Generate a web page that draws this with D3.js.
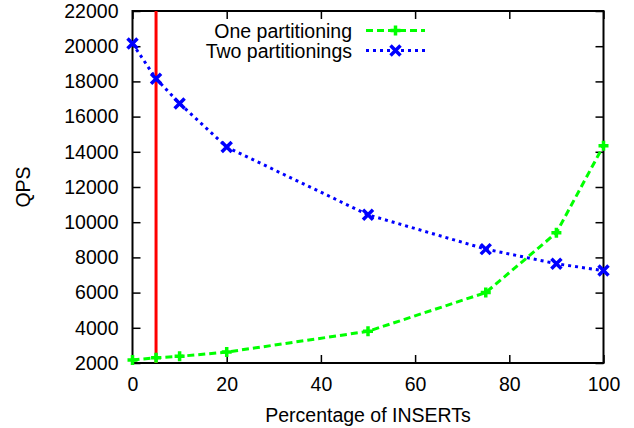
<!DOCTYPE html>
<html>
<head>
<meta charset="utf-8">
<script src="https://cdn.jsdelivr.net/npm/d3@7"></script>
<style>
  body { margin: 0; background: #fff; }
  svg text { font-family: "Liberation Sans", Arial, Helvetica, sans-serif; fill: #000; }
</style>
</head>
<body>
<div id="chart"></div>
<script>
const xValues = [0, 5, 10, 20, 50, 75, 90, 100];
const onePartitioning = [2170, 2300, 2380, 2620, 3800, 6000, 9400, 14350];
const twoPartitionings = [20150, 18150, 16750, 14270, 10420, 8470, 7640, 7250];
const markerX = 5;
const xTicks = [0, 20, 40, 60, 80, 100];
const yTicks = [2000, 4000, 6000, 8000, 10000, 12000, 14000, 16000, 18000, 20000, 22000];

const width = 634, height = 428;
const margin = {top: 11, right: 30.5, bottom: 65, left: 132.5};
const w = width - margin.left - margin.right;
const h = height - margin.top - margin.bottom;

const svg = d3.select('#chart').append('svg')
    .attr('width', width)
    .attr('height', height);

const g = svg.append('g')
    .attr('transform', `translate(${margin.left},${margin.top})`);

const xScale = d3.scaleLinear().domain([0, 100]).range([0, w]);
const yScale = d3.scaleLinear().domain([2000, 22000]).range([h, 0]);

const fontSize = '19.5px';

// ticks on all four sides, pointing inward
g.append('g')
    .attr('transform', `translate(0,${h})`)
    .call(d3.axisBottom(xScale).tickValues(xTicks).tickSizeInner(-8).tickSizeOuter(0).tickPadding(14).tickFormat(d3.format('d')))
    .call(ax => ax.select('.domain').remove())
    .selectAll('text').style('font-size', fontSize);

g.append('g')
    .call(d3.axisTop(xScale).tickValues(xTicks).tickSizeInner(-8).tickSizeOuter(0).tickFormat(''))
    .call(ax => ax.select('.domain').remove());

g.append('g')
    .call(d3.axisLeft(yScale).tickValues(yTicks).tickSizeInner(-8).tickSizeOuter(0).tickPadding(14).tickFormat(d3.format('d')))
    .call(ax => ax.select('.domain').remove())
    .selectAll('text').style('font-size', fontSize);

g.append('g')
    .attr('transform', `translate(${w},0)`)
    .call(d3.axisRight(yScale).tickValues(yTicks).tickSizeInner(-8).tickSizeOuter(0).tickFormat(''))
    .call(ax => ax.select('.domain').remove());

g.selectAll('.tick line').attr('stroke', '#000').attr('stroke-width', 1.5);

// frame
g.append('rect')
    .attr('width', w).attr('height', h)
    .attr('fill', 'none').attr('stroke', '#000').attr('stroke-width', 2);

// red vertical marker
g.append('line')
    .attr('x1', xScale(markerX)).attr('x2', xScale(markerX))
    .attr('y1', 0).attr('y2', h)
    .attr('stroke', '#ff0000').attr('stroke-width', 3);

const series = [
    {name: 'One partitioning', values: onePartitioning, color: '#00ff00', dash: '7,4', marker: 'plus'},
    {name: 'Two partitionings', values: twoPartitionings, color: '#0000ff', dash: '3,4', marker: 'cross'}
];

const line = d3.line()
    .x((d, i) => xScale(xValues[i]))
    .y(d => yScale(d));

function drawMarker(sel, type, color) {
    const s = 5;
    const path = type === 'plus'
        ? `M${-s},0L${s},0M0,${-s}L0,${s}`
        : `M${-s},${-s}L${s},${s}M${-s},${s}L${s},${-s}`;
    sel.append('path')
        .attr('d', path)
        .attr('stroke', color)
        .attr('stroke-width', 3.5)
        .attr('fill', 'none');
}

series.forEach(s => {
    g.append('path')
        .datum(s.values)
        .attr('fill', 'none')
        .attr('stroke', s.color)
        .attr('stroke-width', 3)
        .attr('stroke-dasharray', s.dash)
        .attr('d', line);

    g.selectAll(null)
        .data(s.values)
        .enter().append('g')
        .attr('transform', (d, i) => `translate(${xScale(xValues[i])},${yScale(d)})`)
        .each(function() { drawMarker(d3.select(this), s.marker, s.color); });
});

// legend
const legend = svg.append('g');
series.forEach((s, i) => {
    const y = 30.5 + i * 20;
    legend.append('text')
        .attr('x', 352).attr('y', y + 7)
        .attr('text-anchor', 'end')
        .style('font-size', fontSize)
        .text(s.name);
    legend.append('line')
        .attr('x1', 366).attr('x2', 425)
        .attr('y1', y).attr('y2', y)
        .attr('stroke', s.color)
        .attr('stroke-width', 3)
        .attr('stroke-dasharray', s.dash);
    drawMarker(legend.append('g').attr('transform', `translate(395.5,${y})`), s.marker, s.color);
});

// axis titles
svg.append('text')
    .attr('x', margin.left + w / 2).attr('y', 421.5)
    .attr('text-anchor', 'middle')
    .style('font-size', fontSize)
    .text('Percentage of INSERTs');

svg.append('text')
    .attr('transform', `translate(29.5,187) rotate(-90)`)
    .attr('text-anchor', 'middle')
    .style('font-size', fontSize)
    .text('QPS');
</script>
</body>
</html>
